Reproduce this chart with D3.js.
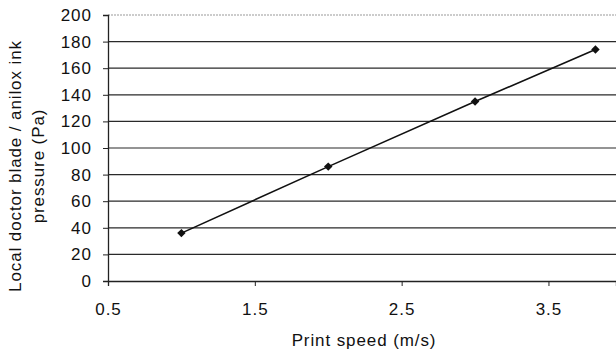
<!DOCTYPE html>
<html lang="en">
  <head>
    <meta charset="UTF-8" />
    <title>Doctor blade pressure vs print speed</title>
    <script src="https://d3js.org/d3.v7.min.js"></script>
    <style>
      body { margin: 0; background: #fff; }
      svg { display: block; font-family: Arial, "Liberation Sans", sans-serif; }
      .tick text { font-size: 17px; fill: #111; letter-spacing: 1px; }
      .title { font-size: 17px; fill: #111; letter-spacing: 0.9px; }
    </style>
  </head>
  <body>
    <svg width="616" height="351"></svg>
    <script>
      // data
      const speeds = [1.0, 2.0, 3.0, 3.82];
      const pressures = [36, 86, 135, 174];
      const xTicks = [0.5, 1.5, 2.5, 3.5];
      const yTicks = [0, 20, 40, 60, 80, 100, 120, 140, 160, 180, 200];

      const svg = d3.select('svg');
      const plotL = 108, plotR = 616, plotT = 15, plotB = 281;

      const x = d3.scaleLinear().domain([0.5, 3.96]).range([plotL, plotR]);
      const y = d3.scaleLinear().domain([0, 200]).range([plotB, plotT]);

      // horizontal gridlines
      svg.append('g')
        .selectAll('line')
        .data(yTicks.filter((d) => d > 0))
        .join('line')
        .attr('x1', plotL).attr('x2', plotR)
        .attr('y1', (d) => y(d)).attr('y2', (d) => y(d))
        .attr('stroke', (d) => (d === 200 ? '#999' : '#2a2a2a'))
        .attr('stroke-dasharray', (d) => (d === 200 ? '2,1' : null))
        .attr('stroke-width', 1.2);

      // y axis
      const yAxis = svg.append('g')
        .attr('transform', `translate(${plotL},0)`)
        .call(d3.axisLeft(y).tickValues(yTicks).tickSize(5).tickPadding(11));
      yAxis.select('.domain').attr('stroke', '#222').attr('stroke-width', 1.3);
      yAxis.selectAll('.tick line').attr('stroke', '#222');

      // x axis
      const xAxis = svg.append('g')
        .attr('transform', `translate(0,${plotB})`)
        .call(d3.axisBottom(x).tickValues(xTicks).tickFormat(d3.format('.1f')).tickSize(5).tickPadding(17));
      xAxis.select('.domain').attr('stroke', '#222').attr('stroke-width', 1.3);
      xAxis.selectAll('.tick line').attr('stroke', '#222');

      const pts = speeds.map((s, i) => ({ s, p: pressures[i] }));

      svg.append('path')
        .datum(pts)
        .attr('fill', 'none')
        .attr('stroke', '#111')
        .attr('stroke-width', 1.6)
        .attr('d', d3.line().x((d) => x(d.s)).y((d) => y(d.p)));

      svg.append('g')
        .selectAll('path')
        .data(pts)
        .join('path')
        .attr('transform', (d) => `translate(${x(d.s)},${y(d.p)}) rotate(45)`)
        .attr('d', d3.symbol(d3.symbolSquare, 36))
        .attr('fill', '#111');

      // axis titles
      svg.append('text')
        .attr('class', 'title')
        .attr('x', 364).attr('y', 346)
        .attr('text-anchor', 'middle')
        .text('Print speed (m/s)');

      const yt = svg.append('text')
        .attr('class', 'title')
        .attr('text-anchor', 'middle')
        .attr('transform', 'translate(21,166) rotate(-90)');
      yt.append('tspan').attr('x', 0).attr('dy', 0).text('Local doctor blade / anilox ink');
      yt.append('tspan').attr('x', 0).attr('dy', 23).text('pressure (Pa)');
    </script>
  </body>
</html>
